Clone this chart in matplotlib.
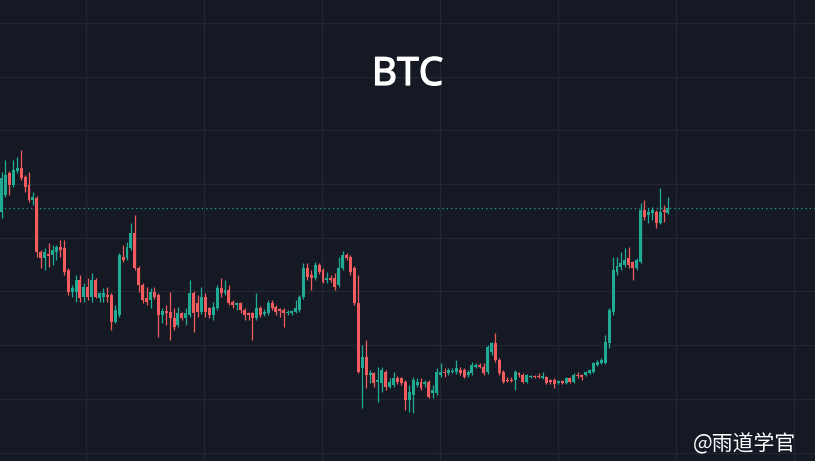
import numpy as np
import matplotlib.pyplot as plt
import matplotlib.patheffects as pe

plt.rcParams['font.family'] = ['Noto Sans', 'Noto Sans CJK SC', 'DejaVu Sans']

# OHLC (arbitrary price units, one candle per bar)
opens = [248, 265, 287, 275, 289, 292, 283, 275, 260, 262, 208, 202, 206, 205, 208, 213, 212, 190, 168, 168,
         180, 163, 173, 163, 180, 162, 163, 165, 165, 138, 145, 203, 202, 212, 227, 192, 175, 162, 160, 168,
         165, 145, 149, 148, 142, 135, 147, 142, 145, 167, 157, 148, 163, 152, 145, 152, 172, 167, 170, 158,
         155, 157, 150, 147, 147, 142, 152, 146, 147, 157, 153, 151, 150, 147, 147, 148, 150, 163, 192, 185,
         182, 195, 190, 180, 182, 182, 175, 192, 205, 203, 192, 157, 92, 103, 85, 87, 78, 77, 88, 73,
         75, 82, 82, 78, 60, 65, 75, 78, 76, 78, 67, 67, 85, 88, 87, 88, 88, 90, 90, 85,
         87, 93, 95, 93, 88, 108, 117, 100, 88, 80, 80, 80, 87, 85, 78, 83, 84, 84, 82, 83,
         80, 80, 77, 79, 77, 82, 78, 85, 85, 85, 87, 88, 95, 97, 97, 117, 148, 188, 193, 195,
         202, 198, 192, 198, 250, 245, 247, 248, 237, 250, 247]
highs = [288, 300, 289, 300, 303, 310, 285, 288, 268, 264, 210, 212, 217, 215, 215, 220, 220, 192, 175, 185,
         185, 177, 182, 187, 182, 168, 172, 173, 167, 155, 207, 215, 218, 237, 245, 194, 177, 173, 172, 173,
         167, 152, 155, 168, 152, 153, 148, 152, 180, 169, 165, 173, 167, 153, 158, 175, 182, 180, 175, 160,
         158, 158, 152, 148, 148, 167, 154, 151, 160, 160, 155, 152, 152, 150, 150, 160, 165, 197, 197, 190,
         198, 197, 192, 188, 185, 187, 203, 209, 207, 205, 194, 185, 115, 120, 90, 88, 93, 93, 90, 82,
         88, 84, 83, 80, 75, 83, 82, 82, 80, 80, 75, 92, 97, 92, 92, 92, 100, 93, 92, 90,
         98, 97, 97, 97, 115, 118, 127, 102, 90, 83, 83, 90, 88, 87, 86, 85, 85, 87, 88, 84,
         81, 82, 80, 80, 83, 83, 87, 88, 86, 89, 91, 98, 100, 102, 125, 152, 203, 203, 208, 212,
         213, 199, 202, 257, 260, 252, 253, 250, 272, 255, 263]
lows = [242, 263, 265, 273, 287, 280, 268, 258, 255, 203, 192, 190, 193, 195, 200, 203, 185, 165, 163, 158,
        158, 158, 160, 158, 162, 158, 158, 158, 130, 137, 143, 198, 200, 210, 190, 168, 157, 155, 152, 161,
        123, 137, 135, 120, 130, 133, 140, 135, 143, 128, 143, 146, 143, 142, 140, 150, 163, 165, 155, 152,
        150, 147, 140, 140, 120, 140, 143, 144, 145, 150, 145, 143, 133, 145, 145, 147, 148, 161, 180, 170,
        180, 186, 177, 177, 178, 170, 173, 190, 200, 185, 155, 87, 52, 72, 77, 73, 58, 68, 70, 72,
        73, 76, 75, 50, 48, 47, 73, 70, 73, 62, 62, 65, 83, 83, 85, 87, 86, 85, 82, 83,
        85, 92, 92, 85, 86, 105, 98, 85, 77, 78, 78, 70, 83, 77, 77, 82, 82, 82, 81, 76,
        76, 72, 76, 76, 76, 77, 77, 82, 80, 84, 86, 87, 94, 96, 96, 112, 145, 185, 190, 193,
        192, 180, 190, 197, 240, 237, 240, 232, 236, 238, 246]
closes = [282, 285, 275, 290, 292, 282, 273, 260, 263, 208, 202, 208, 204, 210, 213, 210, 188, 168, 172, 180,
          162, 173, 163, 180, 163, 167, 167, 163, 138, 150, 205, 200, 213, 227, 192, 175, 160, 158, 168, 163,
          145, 149, 147, 142, 133, 147, 142, 147, 167, 147, 148, 163, 148, 145, 153, 172, 167, 170, 157, 155,
          157, 150, 145, 145, 142, 152, 145, 148, 157, 152, 148, 149, 147, 148, 149, 152, 163, 192, 183, 182,
          195, 188, 178, 182, 180, 173, 192, 205, 202, 188, 157, 88, 103, 85, 87, 77, 80, 90, 73, 78,
          82, 78, 77, 60, 68, 80, 78, 72, 78, 63, 70, 88, 88, 87, 90, 89, 92, 87, 83, 88,
          95, 95, 93, 87, 113, 117, 100, 87, 78, 79, 79, 88, 85, 78, 85, 84, 83, 83, 84, 77,
          78, 76, 79, 77, 82, 78, 85, 84, 83, 88, 90, 97, 98, 100, 118, 150, 190, 194, 197, 200,
          195, 192, 200, 250, 243, 248, 250, 237, 248, 248, 252]

last_price = closes[-1]

bg = '#151924'
grid_c = '#232733'
up_c = '#22ab94'
down_c = '#f25c5f'

o = np.array(opens, float)
h = np.array(highs, float)
l = np.array(lows, float)
c = np.array(closes, float)
x = np.arange(len(c))
colors = np.where(c >= o, up_c, down_c)

fig = plt.figure(figsize=(8.15, 4.61), dpi=100, facecolor=bg)
ax = fig.add_axes([0, 0, 1, 1], facecolor=bg)

# grid
step = 118 / 3.92
for gx in 21.6 + step * np.arange(-1, 8):
    ax.axvline(gx, color=grid_c, lw=0.9, zorder=0)
for gy in 276 - 53.7 * np.arange(-4, 7):
    ax.axhline(gy, color=grid_c, lw=0.9, zorder=0)

ax.vlines(x, l, h, colors=colors, lw=0.9, zorder=2)
body_lo = np.minimum(o, c)
body_h = np.maximum(np.abs(c - o), 1.0)
ax.bar(x, body_h, bottom=body_lo, width=0.76, color=colors, linewidth=0, zorder=3)

ax.axhline(last_price, color=up_c, lw=0.9, ls=(0, (1, 2.5)), zorder=1)

ax.set_xlim(-0.4, 815 / 3.92 - 0.4)
ax.set_ylim(-1, 460)
ax.axis('off')

fig.text(0.5, 1 - 75 / 461, 'BTC', color='white', fontsize=28,
         ha='center', va='center',
         path_effects=[pe.withStroke(linewidth=0.9, foreground='white')])
fig.text(693 / 815, 1 - 433 / 461, '@雨道学官', color='white', fontsize=15,
         ha='left', va='top', family=['Noto Sans CJK SC', 'DejaVu Sans'])

fig.savefig('out.png', dpi=100, facecolor=bg)
